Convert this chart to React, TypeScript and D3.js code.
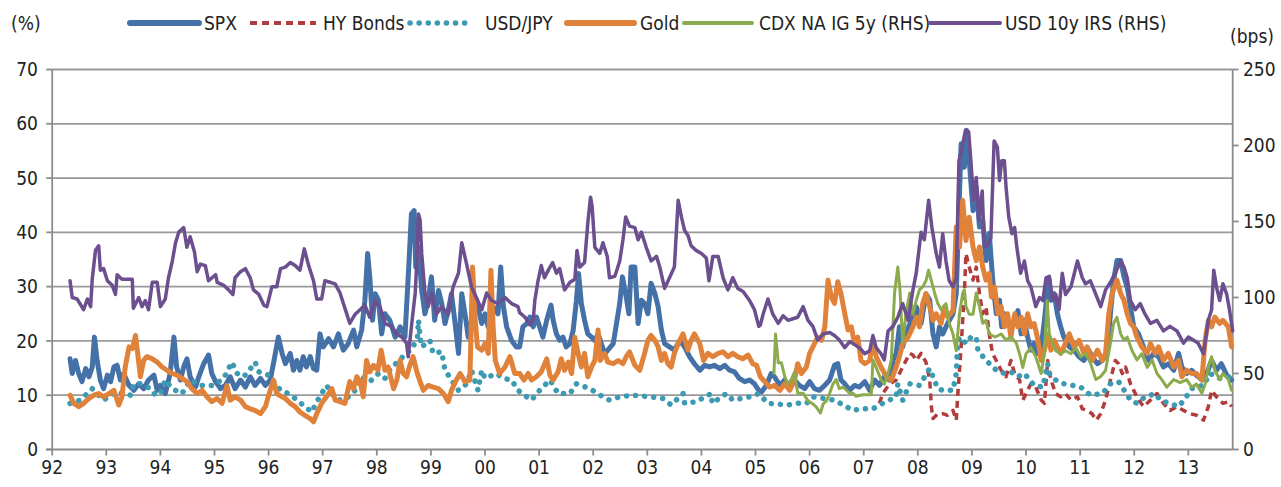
import React from 'react'
import * as d3 from 'd3'

type Pt = [number, number]

// decimal year, value (% on left axis)
const spx: Pt[] = [
  [1992.33,16.7],[1992.37,14.0],[1992.43,16.4],[1992.49,14],[1992.55,12.5],[1992.62,14.9],[1992.68,13.4],[1992.74,15.2],[1992.78,20.7],[1992.83,16.4],[1992.89,12.8],[1992.95,11.2],[1993.02,13.7],[1993.08,12.5],[1993.14,15.2],[1993.2,15.5],[1993.26,12.8],[1993.32,14.0],[1993.42,11.8],[1993.51,10.9],[1993.6,12.1],[1993.69,11.2],[1993.78,12.8],[1993.88,13.7],[1993.94,10.9],[1994.0,11.8],[1994.09,10.3],[1994.18,14],[1994.25,20.7],[1994.3,15.2],[1994.37,12.8],[1994.43,15.2],[1994.49,16.7],[1994.55,13.4],[1994.65,11.5],[1994.71,13.4],[1994.8,15.8],[1994.89,17.4],[1994.95,14.0],[1995.02,12.5],[1995.11,11.2],[1995.2,11.8],[1995.29,13.4],[1995.38,11.2],[1995.48,12.8],[1995.57,11.5],[1995.66,13.4],[1995.75,11.8],[1995.85,13.1],[1995.94,11.8],[1996.03,12.8],[1996.1,16.4],[1996.18,20.7],[1996.25,17.7],
  [1996.31,15.8],[1996.4,17.7],[1996.46,14.6],[1996.52,16.4],[1996.58,14.6],[1996.64,17.1],[1996.7,15.2],[1996.77,17.1],[1996.83,14.9],[1996.89,14.6],[1996.95,21.3],[1997.01,18.9],[1997.11,20.4],[1997.2,18.9],[1997.29,21.3],[1997.38,18.3],[1997.47,19.5],[1997.57,22.0],[1997.63,18.9],[1997.72,22.0],[1997.78,27.5],[1997.83,36.1],[1997.87,31.8],[1997.92,23.8],[1997.97,28.7],[1998.03,27.5],[1998.09,21.3],[1998.15,25],[1998.24,23.8],[1998.34,20.7],[1998.43,22.6],[1998.52,20.7],[1998.59,33.6],[1998.64,43.4],[1998.69,44.0],[1998.72,33.6],[1998.77,37.3],[1998.83,29.3],[1998.89,25],[1998.95,27.5],[1999.01,31.8],[1999.07,23.8],[1999.14,29.3],[1999.2,26.9],[1999.26,23.2],[1999.32,25.6],[1999.38,28.7],[1999.44,23.8],[1999.51,17.7],[1999.57,28.7],[1999.63,25],[1999.69,20.7],[1999.75,23.8],[1999.84,27.5],[1999.94,23.2],[2000.0,25],[2000.06,22.6],[2000.15,26.3],[2000.24,25],[2000.29,33.6],[2000.34,26.3],[2000.4,22.6],[2000.49,20.1],[2000.58,18.9],
  [2000.64,18.9],[2000.7,22.6],[2000.77,23.2],[2000.83,24.4],[2000.89,22.6],[2000.95,24.4],[2001.01,22.6],[2001.07,20.7],[2001.14,23.8],[2001.22,26.6],[2001.26,23.8],[2001.32,21.3],[2001.38,20.1],[2001.44,20.7],[2001.5,18.9],[2001.57,19.5],[2001.63,22],[2001.69,27.5],[2001.73,32.4],[2001.78,26.9],[2001.84,23.8],[2001.9,21.3],[2001.97,20.7],[2002.03,20.1],[2002.09,21.3],[2002.15,19.5],[2002.21,17.7],[2002.27,18.3],[2002.37,19.5],[2002.43,23.2],[2002.49,26.9],[2002.54,31.8],[2002.6,28.7],[2002.66,25],[2002.7,33.6],[2002.77,33.6],[2002.83,23.2],[2002.89,27.5],[2002.95,26.9],[2003.01,25],[2003.07,30.6],[2003.14,28.7],[2003.2,26.3],[2003.26,22],[2003.32,19.5],[2003.41,18.9],[2003.5,18.3],[2003.6,20.1],[2003.69,18.9],[2003.78,17.1],[2003.87,15.8],[2003.97,14.6],[2004.06,15.5],[2004.15,15.2],[2004.24,15.5],[2004.34,14.9],[2004.43,15.5],[2004.52,14.6],[2004.61,14.3],[2004.7,13.1],[2004.8,12.5],[2004.89,12.8],[2004.98,12.1],[2005.06,10.9],
  [2005.11,10.6],[2005.2,11.8],[2005.29,14],[2005.35,13.4],[2005.45,11.8],[2005.54,12.8],[2005.63,11.2],[2005.72,12.8],[2005.81,11.8],[2005.91,11.2],[2006.0,12.5],[2006.09,11.2],[2006.18,10.9],[2006.28,11.8],[2006.37,12.8],[2006.46,15.5],[2006.52,15.8],[2006.58,12.8],[2006.65,12.1],[2006.74,10.9],[2006.83,11.8],[2006.92,11.5],[2007.02,12.5],[2007.11,10.9],[2007.2,12.8],[2007.29,11.8],[2007.38,13.4],[2007.48,12.8],[2007.54,16.4],[2007.6,17.7],[2007.66,22.6],[2007.72,18.9],[2007.78,21.3],[2007.88,23.8],[2007.97,26.3],[2008.06,23.2],[2008.15,28.7],[2008.22,27.5],[2008.28,21.3],[2008.34,18.9],[2008.4,22.6],[2008.46,21.3],[2008.55,23.2],[2008.65,25],[2008.71,28.7],[2008.77,47.1],[2008.8,56.3],[2008.86,52],[2008.9,58.8],[2008.95,53.3],[2009.02,44],[2009.08,48.3],[2009.14,41],[2009.2,42.2],[2009.26,34.8],[2009.32,39.8],[2009.38,31.8],
  [2009.41,28.7],[2009.45,25],[2009.51,27.5],[2009.55,22.6],[2009.6,25],[2009.66,23.8],[2009.72,22.6],[2009.79,23.8],[2009.85,25.6],[2009.91,21.3],[2009.97,23.8],[2010.03,20.7],[2010.09,18.3],[2010.15,19.5],[2010.21,17.7],[2010.28,18.9],[2010.34,23.8],[2010.39,28.7],[2010.43,31.2],[2010.46,27.5],[2010.52,28.7],[2010.58,25],[2010.64,22.6],[2010.7,20.7],[2010.8,18.9],[2010.89,18.3],[2010.98,17.1],[2011.07,16.4],[2011.16,18.3],[2011.22,17.1],[2011.32,15.8],[2011.41,16.4],[2011.5,17.7],[2011.56,25],[2011.62,31.2],[2011.68,34.8],[2011.75,34.8],[2011.81,31.8],[2011.87,29.9],[2011.93,26.3],[2011.99,22.6],[2012.08,21.3],[2012.17,18.9],[2012.27,16.4],[2012.36,17.7],[2012.45,17.1],[2012.54,15.2],[2012.63,15.8],[2012.73,14.6],[2012.82,17.7],[2012.88,15.2],[2012.97,14],[2013.06,14.6],[2013.15,13.7],[2013.25,12.8],[2013.34,14],[2013.43,16.4],[2013.52,14.6],[2013.61,15.8],[2013.71,13.7],[2013.8,12.8]
]

const hyBonds: Pt[] = [
  [2007.29,8.5],[2007.35,10.3],[2007.48,12.1],[2007.6,12.8],[2007.72,15.2],[2007.85,17.7],[2007.91,17.4],[2007.97,16.4],[2008.06,17.7],[2008.15,16.1],[2008.22,12.8],[2008.25,7.9],[2008.28,5.7],[2008.37,6.6],[2008.46,6.6],[2008.55,6.3],[2008.65,7.2],[2008.71,5.4],[2008.74,10.3],[2008.8,18.9],[2008.86,28.7],[2008.89,36.1],[2008.95,33.6],[2009.02,31.2],[2009.08,33.6],[2009.14,28.7],[2009.2,25],[2009.26,26.3],[2009.32,21.3],[2009.38,17.7],
  [2009.45,16.4],[2009.54,14.6],[2009.63,13.4],[2009.72,16.4],[2009.79,14],[2009.88,12.8],[2009.94,9.1],[2010.0,10.3],[2010.09,12.1],[2010.18,11.5],[2010.28,9.1],[2010.34,8.5],[2010.4,16.4],[2010.46,12.8],[2010.55,10.3],[2010.64,9.7],[2010.73,10.3],[2010.83,9.1],[2010.95,9.7],[2011.04,7.5],[2011.13,7.2],[2011.22,6.6],[2011.3,5.4],[2011.38,6.6],[2011.47,9.1],[2011.56,12.8],[2011.65,16.4],[2011.71,15.8],[2011.78,14],[2011.84,15.2],[2011.93,12.1],[2012.05,9.7],[2012.17,7.9],[2012.3,9.1],[2012.42,10.3],[2012.54,8.5],[2012.66,7.2],[2012.79,7.9],[2012.91,7.2],[2013.03,6.6],[2013.15,6.3],[2013.28,5.4],[2013.37,7.9],[2013.43,10.9],[2013.52,9.7],[2013.64,8.5],[2013.74,8.8],[2013.8,7.9]
]

const usdJpy: Pt[] = [
  [1992.33,8.5],[1992.52,9.1],[1992.74,11.2],[1992.95,9.1],[1993.17,10.6],[1993.45,10],[1993.51,12.1],[1993.63,12.1],[1993.82,11.2],[1993.91,10],[1994.0,10.3],[1994.09,12.8],[1994.22,11.2],[1994.4,10.3],[1994.55,12.8],[1994.74,11.8],[1994.98,11.8],[1995.17,13.1],[1995.32,16.1],[1995.42,14],[1995.54,13.4],[1995.69,15.2],[1995.75,16.1],[1995.82,14.3],[1996.0,13.7],[1996.22,10.9],
  [1996.31,10.6],[1996.49,9.4],[1996.67,7.9],[1996.8,6.9],[1996.89,8.8],[1997.07,11.8],[1997.17,10.3],[1997.29,9.1],[1997.44,9.4],[1997.6,10.9],[1997.72,13.4],[1997.87,12.5],[1998.03,14],[1998.15,13.1],[1998.27,15.2],[1998.43,16.4],[1998.52,17.7],[1998.64,18.3],[1998.75,20.7],[1998.77,23.8],[1998.8,20.7],[1998.83,18.9],[1998.98,20.1],[1999.04,17.7],[1999.2,18],[1999.26,14.6],[1999.38,12.8],[1999.51,10.9],[1999.66,12.1],[1999.75,14.6],[1999.87,10.9],[1999.94,14.6],[2000.0,13.1],[2000.21,14],[2000.34,13.1],[2000.49,12.8],[2000.61,10.9],
  [2000.77,9.7],[2000.86,9.1],[2001.01,10.9],[2001.2,12.8],[2001.35,10.3],[2001.57,10.3],[2001.69,12.1],[2001.94,11.2],[2002.18,9.7],[2002.3,9.1],[2002.49,9.7],[2002.73,10],[2003.04,9.7],[2003.29,9.4],[2003.44,8.2],[2003.66,10.3],[2003.69,8.5],[2003.9,8.8],[2004.18,10.3],[2004.2,8.5],[2004.46,10.3],[2004.58,9.1],[2004.89,9.7],[2005.06,10.3],
  [2005.23,8.5],[2005.6,8.2],[2005.75,8.5],[2005.94,8.5],[2006.06,9.7],[2006.46,9.1],[2006.8,7.2],[2006.95,7.5],[2007.17,7.5],[2007.29,8.2],[2007.6,9.7],[2007.63,12.1],[2007.72,9.1],[2007.85,12.1],[2008.03,11.8],[2008.22,14.9],[2008.28,13.4],[2008.37,11.2],[2008.46,10.9],[2008.65,10.9],[2008.71,14],[2008.74,20.1],[2008.8,20.7],[2008.89,19.5],[2008.98,20.7],[2009.08,20.7],[2009.11,18.3],[2009.26,16.4],[2009.36,15.5],
  [2009.48,14.3],[2009.63,14],[2009.72,14.3],[2009.85,13.4],[2009.97,14],[2010.15,11.8],[2010.31,11.5],[2010.4,15.8],[2010.43,14],[2010.58,12.5],[2010.7,12.1],[2011.01,11.5],[2011.19,10],[2011.41,10.3],[2011.56,12.1],[2011.71,12.5],[2011.93,9.1],[2012.05,8.5],[2012.2,9.7],[2012.39,10.3],[2012.48,9.1],[2012.82,7.9],[2012.94,9.4],[2013.09,11.5],[2013.28,11.8],[2013.4,14],[2013.58,13.1],[2013.8,13.4]
]

const gold: Pt[] = [
  [1992.33,10.0],[1992.4,8.5],[1992.49,7.9],[1992.58,8.5],[1992.68,9.4],[1992.77,10],[1992.86,10.3],[1992.95,9.7],[1993.05,10.3],[1993.14,10.9],[1993.23,8.2],[1993.29,9.7],[1993.35,15.2],[1993.42,18.9],[1993.48,18.6],[1993.54,21],[1993.58,17.7],[1993.63,13.4],[1993.69,16.4],[1993.75,17.1],[1993.85,16.7],[1993.94,16.1],[1994.03,15.2],[1994.12,14.6],[1994.22,14],[1994.31,13.7],[1994.4,13.1],[1994.49,12.5],[1994.58,11.2],[1994.68,10.3],[1994.77,10.9],[1994.86,9.7],[1994.95,8.8],[1995.05,9.4],[1995.14,8.5],[1995.23,11.8],[1995.29,9.1],[1995.38,9.7],[1995.48,9.1],[1995.57,7.9],[1995.66,7.5],[1995.75,7.2],[1995.85,6.6],[1995.94,7.9],[1996.03,10.9],[1996.09,12.8],[1996.15,10.3],[1996.25,9.7],
  [1996.31,9.4],[1996.4,8.5],[1996.49,7.9],[1996.58,6.9],[1996.67,6.3],[1996.77,5.7],[1996.83,5.1],[1996.89,6.6],[1996.98,8.5],[1997.07,9.7],[1997.17,11.2],[1997.23,9.1],[1997.32,8.8],[1997.41,8.5],[1997.5,12.5],[1997.57,11.2],[1997.63,13.4],[1997.69,12.5],[1997.75,9.7],[1997.81,16.4],[1997.87,14.3],[1997.94,15.5],[1998.02,14.6],[1998.08,18.3],[1998.15,14.6],[1998.21,15.2],[1998.31,11.2],[1998.37,12.8],[1998.43,16.4],[1998.49,14],[1998.55,13.4],[1998.61,15.5],[1998.67,17.1],[1998.74,14.3],[1998.8,12.5],[1998.86,10.9],[1998.95,11.8],[1999.04,11.5],[1999.14,11.2],[1999.23,10.3],[1999.32,8.8],[1999.38,10.9],[1999.47,12.8],[1999.54,14],[1999.63,12.5],[1999.72,12.8],[1999.77,33.6],[1999.81,25],[1999.86,18.9],[1999.94,18.3],[2000.0,19.5],[2000.06,17.7],[2000.11,33],[2000.15,22.6],[2000.19,16.4],[2000.27,14],[2000.37,15.2],[2000.46,17.1],[2000.55,14],
  [2000.64,14],[2000.72,12.8],[2000.8,14],[2000.86,12.8],[2000.95,13.4],[2001.04,14.3],[2001.14,16.7],[2001.2,13.7],[2001.26,12.8],[2001.35,14.3],[2001.41,16.7],[2001.47,14.6],[2001.54,16.1],[2001.6,14],[2001.66,20.7],[2001.72,17.7],[2001.78,15.2],[2001.84,17.7],[2001.9,13.4],[2001.97,15.2],[2002.03,16.4],[2002.09,22],[2002.13,16.4],[2002.21,17.7],[2002.27,16.1],[2002.37,15.8],[2002.46,16.4],[2002.55,15.8],[2002.61,17.1],[2002.67,18],[2002.77,15.5],[2002.86,14.6],[2002.95,17.7],[2003.01,20.1],[2003.07,21],[2003.14,20.1],[2003.2,18.9],[2003.26,16.4],[2003.32,17.7],[2003.38,15.8],[2003.44,15.2],[2003.5,17.7],[2003.57,19.5],[2003.66,21.3],[2003.75,18.3],[2003.81,20.1],[2003.87,21.3],[2003.97,19.5],[2004.04,16.4],[2004.12,17.7],[2004.21,17.1],[2004.31,17.7],[2004.4,18],[2004.49,17.1],[2004.58,17.7],[2004.67,17.1],[2004.77,16.7],[2004.86,17.4],[2004.95,15.8],
  [2005.02,15.5],[2005.09,13.4],[2005.17,12.5],[2005.26,11.5],[2005.35,11.8],[2005.45,10.9],[2005.54,12.1],[2005.63,10.9],[2005.72,12.8],[2005.78,15.8],[2005.85,14],[2005.94,15.2],[2006.0,17.7],[2006.09,19.5],[2006.15,20.7],[2006.22,20.1],[2006.28,22.6],[2006.34,31.2],[2006.4,28.1],[2006.46,26.9],[2006.52,30.9],[2006.58,28.7],[2006.65,25],[2006.71,22],[2006.77,22.6],[2006.83,19.5],[2006.89,20.7],[2006.95,16.4],[2007.02,15.8],[2007.11,16.4],[2007.17,20.1],[2007.23,17.1],[2007.32,15.2],[2007.42,13.4],[2007.51,12.8],[2007.6,15.2],[2007.66,17.1],[2007.72,19.5],[2007.82,20.7],[2007.91,22.6],[2007.97,24.4],[2008.03,22.6],[2008.09,26.9],[2008.15,28.7],[2008.22,26.3],[2008.28,23.8],[2008.34,25],[2008.43,23.2],[2008.49,26.3],[2008.55,24.4],[2008.65,25.6],[2008.71,41],[2008.77,37.3],[2008.83,45.9],[2008.89,38.5],[2008.95,42.8],[2009.02,37.3],[2009.08,34.8],[2009.14,37.3],[2009.2,33.6],[2009.26,31.2],[2009.32,32.4],
  [2009.36,28.1],[2009.42,29.9],[2009.48,25],[2009.54,26.3],[2009.6,22.6],[2009.66,25],[2009.72,20.7],[2009.79,25],[2009.85,22.6],[2009.91,24.4],[2009.97,21.3],[2010.03,25],[2010.09,22.6],[2010.15,23.2],[2010.21,20.7],[2010.28,16.4],[2010.34,18.3],[2010.4,21.3],[2010.46,18.3],[2010.52,20.1],[2010.58,18.9],[2010.64,17.7],[2010.7,18.9],[2010.8,21.3],[2010.89,18.9],[2010.98,20.1],[2011.07,17.7],[2011.13,18.9],[2011.22,16.4],[2011.32,18.3],[2011.41,16.4],[2011.47,17.7],[2011.53,25],[2011.59,28.7],[2011.68,31.2],[2011.75,28.7],[2011.81,27.5],[2011.87,25],[2011.93,23.2],[2011.99,22.6],[2012.05,20.7],[2012.14,18.9],[2012.24,17.7],[2012.3,19.5],[2012.39,17.7],[2012.45,18.9],[2012.54,16.4],[2012.63,17.7],[2012.73,15.2],[2012.82,16.4],[2012.88,13.4],[2012.97,14.6],[2013.06,14],[2013.15,14],[2013.25,12.8],[2013.31,20.1],[2013.37,23.8],[2013.43,22.6],[2013.49,24.4],[2013.58,23.2],[2013.64,23.8],[2013.74,22.6],[2013.8,18.9]
]

// bps, right axis
const cdxIg: Pt[] = [
  [2005.34,50],[2005.37,76],[2005.42,57],[2005.48,57],[2005.54,48],[2005.6,43],[2005.66,46],[2005.72,51],[2005.78,37],[2005.88,37],[2005.97,32],[2006.06,30],[2006.12,28],[2006.2,24],[2006.25,30],[2006.31,32],[2006.37,37],[2006.43,43],[2006.49,46],[2006.55,40],[2006.62,41],[2006.68,39],[2006.74,37],[2006.8,37],[2006.86,35],[2006.98,36],[2007.14,36],[2007.17,59],[2007.23,54],[2007.32,46],[2007.38,43],[2007.45,50],[2007.51,59],[2007.57,103],[2007.63,120],[2007.67,105],[2007.72,70],[2007.78,89],[2007.85,103],[2007.91,89],[2007.97,98],[2008.03,105],[2008.09,107],[2008.15,111],[2008.2,118],[2008.25,111],[2008.31,103],[2008.37,96],[2008.43,92],[2008.52,96],[2008.58,83],[2008.65,76],[2008.71,65],[2008.77,89],[2008.83,103],[2008.86,105],[2008.89,94],[2008.95,89],[2009.02,89],[2009.08,103],[2009.14,94],[2009.2,83],[2009.26,85],[2009.32,76],[2009.43,74],
  [2009.54,76],[2009.63,72],[2009.72,74],[2009.82,70],[2009.88,63],[2009.94,54],[2010.0,63],[2010.09,67],[2010.18,61],[2010.28,50],[2010.34,63],[2010.39,98],[2010.43,76],[2010.49,70],[2010.55,65],[2010.64,63],[2010.73,65],[2010.83,63],[2010.92,67],[2011.01,61],[2011.1,63],[2011.19,57],[2011.29,46],[2011.38,48],[2011.47,52],[2011.56,70],[2011.62,83],[2011.68,87],[2011.75,76],[2011.81,72],[2011.87,74],[2011.96,65],[2012.05,59],[2012.14,63],[2012.24,54],[2012.33,59],[2012.42,50],[2012.51,46],[2012.6,41],[2012.73,46],[2012.85,44],[2012.97,46],[2013.06,41],[2013.15,43],[2013.25,37],[2013.31,43],[2013.37,54],[2013.43,61],[2013.49,52],[2013.58,46],[2013.64,50],[2013.74,46],[2013.8,39]
]

const usdIrs: Pt[] = [
  [1992.33,111],[1992.37,100],[1992.46,99],[1992.58,92],[1992.65,99],[1992.71,94],[1992.74,112],[1992.8,131],[1992.86,134],[1992.89,118],[1992.95,119],[1993.02,111],[1993.11,108],[1993.17,102],[1993.2,115],[1993.29,112],[1993.48,112],[1993.5,93],[1993.6,100],[1993.66,94],[1993.72,98],[1993.78,92],[1993.85,110],[1993.94,110],[1994.0,94],[1994.09,99],[1994.15,113],[1994.22,124],[1994.28,136],[1994.34,143],[1994.43,146],[1994.49,133],[1994.55,140],[1994.63,130],[1994.68,117],[1994.74,122],[1994.83,121],[1994.89,111],[1995.02,115],[1995.05,110],[1995.17,108],[1995.26,105],[1995.34,102],[1995.38,113],[1995.48,117],[1995.57,119],[1995.66,113],[1995.72,105],[1995.82,102],[1995.91,95],[1995.97,94],[1996.06,107],[1996.15,107],[1996.22,119],
  [1996.31,120],[1996.4,123],[1996.49,121],[1996.58,118],[1996.66,132],[1996.74,121],[1996.83,111],[1996.89,99],[1996.98,99],[1997.04,111],[1997.14,110],[1997.23,109],[1997.32,103],[1997.41,93],[1997.5,83],[1997.6,89],[1997.69,92],[1997.78,95],[1997.87,87],[1997.97,98],[1998.06,94],[1998.15,83],[1998.27,81],[1998.37,76],[1998.46,74],[1998.55,70],[1998.58,61],[1998.64,81],[1998.71,103],[1998.74,124],[1998.77,155],[1998.8,151],[1998.83,129],[1998.89,103],[1998.95,94],[1999.01,103],[1999.1,89],[1999.2,94],[1999.32,89],[1999.41,107],[1999.51,116],[1999.57,136],[1999.66,122],[1999.75,107],[1999.84,100],[1999.94,92],[2000.03,103],[2000.12,98],[2000.24,96],[2000.37,100],[2000.49,96],[2000.61,94],
  [2000.64,90],[2000.74,87],[2000.83,82],[2000.89,85],[2000.92,98],[2000.98,111],[2001.04,121],[2001.1,113],[2001.17,118],[2001.25,123],[2001.32,116],[2001.38,119],[2001.47,105],[2001.57,110],[2001.66,112],[2001.7,131],[2001.75,120],[2001.84,123],[2001.9,149],[2001.95,166],[2001.98,160],[2002.03,133],[2002.12,129],[2002.18,136],[2002.26,127],[2002.3,113],[2002.4,114],[2002.49,124],[2002.55,138],[2002.6,153],[2002.67,147],[2002.77,146],[2002.83,138],[2002.89,143],[2002.98,133],[2003.07,124],[2003.17,127],[2003.23,120],[2003.32,106],[2003.41,113],[2003.5,120],[2003.57,164],[2003.63,153],[2003.69,144],[2003.75,141],[2003.81,134],[2003.9,131],[2004.0,129],[2004.09,126],[2004.14,111],[2004.21,127],[2004.31,127],[2004.4,113],[2004.49,105],[2004.58,113],[2004.67,106],[2004.77,104],[2004.89,98],[2004.98,92],[2005.06,81],
  [2005.09,82],[2005.14,89],[2005.23,99],[2005.32,89],[2005.42,83],[2005.51,88],[2005.6,85],[2005.69,86],[2005.78,87],[2005.88,94],[2005.97,85],[2006.06,81],[2006.15,72],[2006.25,76],[2006.37,77],[2006.46,75],[2006.55,72],[2006.65,67],[2006.74,71],[2006.83,69],[2006.92,67],[2007.02,63],[2007.11,65],[2007.17,75],[2007.23,67],[2007.32,63],[2007.38,59],[2007.45,78],[2007.54,81],[2007.63,87],[2007.72,96],[2007.82,85],[2007.91,105],[2007.97,116],[2008.06,143],[2008.12,138],[2008.2,164],[2008.26,146],[2008.34,129],[2008.4,120],[2008.46,142],[2008.52,124],[2008.58,111],[2008.65,107],[2008.71,113],[2008.76,190],[2008.82,199],[2008.88,210],[2008.94,209],[2008.98,190],[2009.03,164],[2009.08,179],[2009.13,151],[2009.19,170],[2009.23,133],[2009.29,135],[2009.35,139],
  [2009.41,203],[2009.47,199],[2009.51,177],[2009.55,190],[2009.6,190],[2009.63,173],[2009.68,153],[2009.74,142],[2009.79,146],[2009.83,133],[2009.9,116],[2009.97,124],[2010.03,111],[2010.09,107],[2010.18,94],[2010.25,100],[2010.31,98],[2010.37,113],[2010.43,114],[2010.49,98],[2010.55,102],[2010.61,92],[2010.67,116],[2010.73,102],[2010.83,107],[2010.95,124],[2011.04,113],[2011.1,109],[2011.19,111],[2011.29,102],[2011.38,94],[2011.47,105],[2011.56,110],[2011.65,116],[2011.75,124],[2011.81,120],[2011.87,113],[2011.93,98],[2012.02,92],[2012.11,96],[2012.2,89],[2012.3,83],[2012.42,85],[2012.54,78],[2012.66,81],[2012.79,78],[2012.91,70],[2013.0,74],[2013.09,72],[2013.18,70],[2013.28,63],[2013.37,85],[2013.43,92],[2013.47,118],[2013.52,107],[2013.58,98],[2013.64,109],[2013.71,102],[2013.76,92],[2013.82,78]
]

const yearTicks = d3.range(1992, 2014)
const leftTicks = [0, 10, 20, 30, 40, 50, 60, 70]
const rightTicks = [0, 50, 100, 150, 200, 250]

const FONT = "'Liberation Sans Narrow', 'DejaVu Sans Condensed', 'Arial Narrow', sans-serif"

const W = 1281
const H = 487
const X0 = 52.2
const X1 = 1232.7
const Y0 = 449.5
const Y1 = 69.5

const GRID = '#999999'
const AXIS = '#8c8c8c'

interface SeriesDef {
  name: string
  data: Pt[]
  axis: 'L' | 'R'
  color: string
  width: number
  dash?: string
  cap: 'round' | 'butt'
}

const series: SeriesDef[] = [
  { name: 'SPX', data: spx, axis: 'L', color: '#4471a7', width: 5, cap: 'round' },
  { name: 'HY Bonds', data: hyBonds, axis: 'L', color: '#b23c3c', width: 3.5, dash: '7 5', cap: 'butt' },
  { name: 'USD/JPY', data: usdJpy, axis: 'L', color: '#3c9ab2', width: 5.5, dash: '0.1 9', cap: 'round' },
  { name: 'Gold', data: gold, axis: 'L', color: '#e0823a', width: 5, cap: 'round' },
  { name: 'CDX NA IG 5y (RHS)', data: cdxIg, axis: 'R', color: '#8bab4d', width: 3, cap: 'round' },
  { name: 'USD 10y IRS (RHS)', data: usdIrs, axis: 'R', color: '#6b4f8e', width: 3.5, cap: 'round' }
]

// legend layout: sample start, sample end, text start
const legendLayout = [
  [130, 199, 204],
  [250, 316, 323],
  [410, 473, 485],
  [567, 634, 640],
  [684, 752, 759],
  [930, 1000, 1005]
]

const App: React.FC = () => {
  const x = d3.scaleLinear().domain([1992, 2013.82]).range([X0, X1])
  const yL = d3.scaleLinear().domain([0, 70]).range([Y0, Y1])
  const yR = d3.scaleLinear().domain([0, 250]).range([Y0, Y1])

  const legendY = 23

  return (
    <svg
      width={W}
      height={H}
      style={{ position: 'absolute', left: 0, top: 0, background: '#fff' }}
      fontFamily={FONT}
    >
      {/* gridlines */}
      {leftTicks.filter(t => t > 0).map(t => (
        <line key={'g' + t} x1={X0} x2={X1} y1={yL(t)} y2={yL(t)} stroke={GRID} strokeWidth={1.8} />
      ))}

      {/* axes */}
      <line x1={X0} x2={X0} y1={Y1} y2={Y0} stroke={AXIS} strokeWidth={1.8} />
      <line x1={X1} x2={X1} y1={Y1} y2={Y0} stroke={AXIS} strokeWidth={1.8} />
      <line x1={X0 - 6} x2={X1} y1={Y0} y2={Y0} stroke={AXIS} strokeWidth={1.8} />
      {leftTicks.map(t => (
        <g key={'l' + t}>
          <line x1={X0 - 6} x2={X0} y1={yL(t)} y2={yL(t)} stroke={AXIS} strokeWidth={1.8} />
          <text x={38} y={yL(t)} dy="0.35em" textAnchor="end" fontSize={19} fill="#222">{t}</text>
        </g>
      ))}
      {rightTicks.map(t => (
        <g key={'r' + t}>
          <line x1={X1} x2={X1 + 6} y1={yR(t)} y2={yR(t)} stroke={AXIS} strokeWidth={1.8} />
          <text x={1243} y={yR(t)} dy="0.35em" textAnchor="start" fontSize={19} fill="#222">{t}</text>
        </g>
      ))}
      {yearTicks.map(yr => (
        <g key={'x' + yr}>
          <line x1={x(yr)} x2={x(yr)} y1={Y0} y2={Y0 + 6} stroke={AXIS} strokeWidth={1.8} />
          <text x={x(yr)} y={467} dy="0.35em" textAnchor="middle" fontSize={19} fill="#222">
            {String(yr % 100).padStart(2, '0')}
          </text>
        </g>
      ))}

      {/* series */}
      {series.map(s => {
        const yScale = s.axis === 'L' ? yL : yR
        const line = d3.line<Pt>().x(d => x(d[0])).y(d => yScale(d[1]))
        return (
          <path
            key={s.name}
            d={line(s.data) || ''}
            fill="none"
            stroke={s.color}
            strokeWidth={s.width}
            strokeDasharray={s.dash}
            strokeLinecap={s.cap}
            strokeLinejoin="round"
          />
        )
      })}

      {/* legend */}
      <text x={11} y={legendY} dy="0.35em" fontSize={19} fill="#222">(%)</text>
      <text x={1230} y={legendY + 13} dy="0.35em" fontSize={19} fill="#222">(bps)</text>
      {series.map((s, i) => {
        const [a, b, t] = legendLayout[i]
        return (
          <g key={'lg' + s.name}>
            <line
              x1={a} x2={b} y1={legendY} y2={legendY}
              stroke={s.color}
              strokeWidth={s.axis === 'L' && !s.dash ? 6 : s.name === 'USD/JPY' ? 5.5 : 4}
              strokeDasharray={s.dash}
              strokeLinecap={s.cap}
            />
            <text x={t} y={legendY} dy="0.35em" fontSize={19} fill="#222">{s.name}</text>
          </g>
        )
      })}
    </svg>
  )
}

export default App
